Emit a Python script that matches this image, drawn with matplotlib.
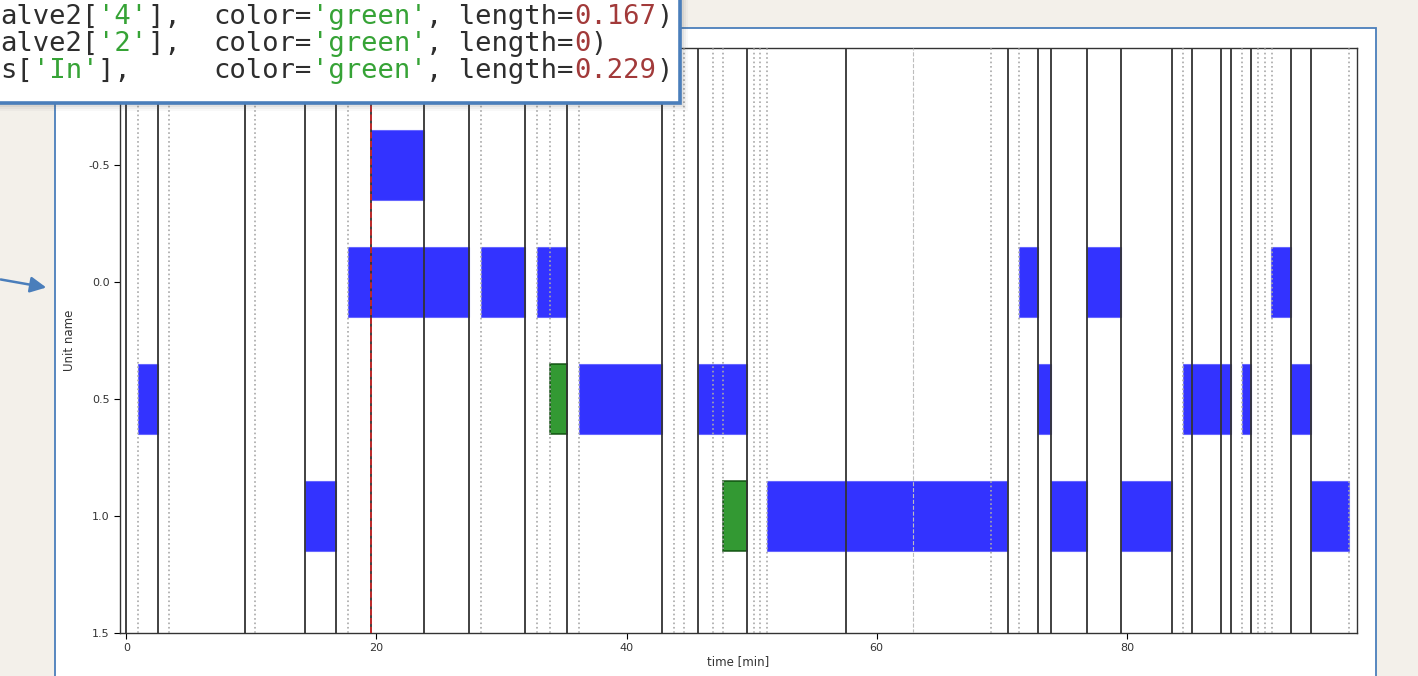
import matplotlib
matplotlib.use('Agg')
import matplotlib.pyplot as plt
from matplotlib.patches import Rectangle
from matplotlib.ticker import MultipleLocator

plt.rcParams['axes.unicode_minus'] = False

# schedule bars: row, start, end (minutes)
blue_rows = [-0.5,
             0.0, 0.0, 0.0, 0.0, 0.0, 0.0,
             0.5, 0.5, 0.5, 0.5, 0.5, 0.5, 0.5,
             1.0, 1.0, 1.0, 1.0, 1.0]
blue_start = [19.6,
              17.7, 28.4, 32.8, 71.4, 76.8, 91.5,
              0.9, 36.2, 45.7, 72.9, 84.5, 89.2, 93.1,
              14.3, 51.2, 73.95, 79.5, 94.7]
blue_end = [23.8,
            27.4, 31.9, 35.2, 72.9, 79.5, 93.1,
            2.5, 42.85, 49.6, 73.95, 88.35, 89.9, 94.7,
            16.8, 70.45, 76.8, 83.6, 97.8]

green_rows = [0.5, 1.0]
green_start = [33.9, 47.7]
green_end = [35.2, 49.6]

# event markers
solid_times = [0, 2.5, 9.46, 14.3, 16.8, 19.6, 23.8, 27.4, 31.9, 35.2, 42.85,
               45.7, 49.6, 57.55, 70.5, 72.9, 73.9, 76.8, 79.5, 83.6, 85.2,
               87.5, 88.3, 89.9, 93.1, 94.7]
dotted_times = [0.93, 3.4, 10.3, 17.7, 28.4, 32.8, 33.9, 36.2, 43.8, 44.6,
                46.9, 47.7, 50.2, 50.7, 51.2, 69.1, 71.4, 84.5, 89.2, 90.5,
                91.05, 91.6, 97.8]
dashed_times = [62.9]
now_time = 19.6

y_ticks = [-0.5, 0.0, 0.5, 1.0, 1.5]

# code snippet lines as (text, kind) tokens
code_lines = [
    [("alve2[", 'txt'), ("'4'", 'str'), ("],  ", 'txt'), ("color=", 'txt'),
     ("'green'", 'str'), (", length=", 'txt'), ("0.167", 'num'), (")", 'txt')],
    [("alve2[", 'txt'), ("'2'", 'str'), ("],  ", 'txt'), ("color=", 'txt'),
     ("'green'", 'str'), (", length=", 'txt'), ("0", 'num'), (")", 'txt')],
    [("s[", 'txt'), ("'In'", 'str'), ("],     ", 'txt'), ("color=", 'txt'),
     ("'green'", 'str'), (", length=", 'txt'), ("0.229", 'num'), (")", 'txt')],
]
code_colors = {'txt': '#2e2e2e', 'str': '#36a336', 'num': '#a23a3a'}

W, H = 1418, 676
BORDER = '#4a7ebb'

fig = plt.figure(figsize=(W / 100, H / 100), dpi=100, facecolor='#f3f0ea')


def pixel_axes(z):
    a = fig.add_axes([0, 0, 1, 1], zorder=z)
    a.set_xlim(0, W)
    a.set_ylim(H, 0)
    a.axis('off')
    return a


# panel behind the plot
bg = pixel_axes(-1)
bg.add_patch(Rectangle((55, 28), 1321, 700, facecolor='white',
                       edgecolor=BORDER, lw=1.3))
bg.annotate('', xy=(49, 288), xytext=(-2, 279),
            arrowprops=dict(arrowstyle='-|>', color=BORDER, lw=1.8,
                            mutation_scale=24))

# gantt axes
ax = fig.add_axes([120 / W, 43 / H, 1237 / W, 585 / H], zorder=1)
ax.set_facecolor('white')

ax.barh(blue_rows, [e - s for s, e in zip(blue_start, blue_end)],
        left=blue_start, height=0.3, color='blue', alpha=0.8,
        edgecolor='#5a5aff', lw=0.8, zorder=2)
ax.barh(green_rows, [e - s for s, e in zip(green_start, green_end)],
        left=green_start, height=0.3, color='green', alpha=0.8,
        edgecolor='#0d4d0d', lw=1.3, zorder=2)

for t in dotted_times:
    ax.axvline(t, color='#a8a8a8', ls=':', lw=1.2, zorder=3)
for t in dashed_times:
    ax.axvline(t, color='#bdbdbd', ls='--', lw=0.8, zorder=3)
for t in solid_times:
    ax.axvline(t, color='#333333', lw=1.3, zorder=3)
ax.axvline(now_time, color='#d62728', ls='--', lw=1.2, zorder=4)

ax.set_xlim(-0.5, 98.4)
ax.set_ylim(1.5, -1.0)
ax.set_yticks(y_ticks)
ax.xaxis.set_major_locator(MultipleLocator(20))
ax.tick_params(labelsize=8, labelcolor='#333333', length=4)
ax.set_xlabel('time [min]', fontsize=8.5, color='#333333')
ax.set_ylabel('Unit name', fontsize=8.5, color='#333333')
ax.xaxis.set_label_coords(0.5, -0.038)
ax.yaxis.set_label_coords(-44 / 1237, 0.5)
for sp in ax.spines.values():
    sp.set_color('#333333')
    sp.set_linewidth(1.0)

# code snippet box over the top left corner
top = pixel_axes(2)
for k, a in enumerate([0.10, 0.08, 0.06, 0.04]):
    top.add_patch(Rectangle((-10, -10), 690 + 2 * k + 2, 113 + 2 * k + 2,
                            facecolor='#555555', alpha=a, lw=0))
top.add_patch(Rectangle((-10, -10), 690, 113, facecolor='white',
                        edgecolor=BORDER, lw=2.6))

cw = 16.4
for i, tokens in enumerate(code_lines):
    x = 0
    y = 17 + 26.8 * i
    for text, kind in tokens:
        top.text(x, y, text, family='DejaVu Sans Mono', fontsize=19.6,
                 color=code_colors[kind], va='center', ha='left')
        x += len(text) * cw

fig.savefig('out.png', dpi=100, facecolor=fig.get_facecolor())
